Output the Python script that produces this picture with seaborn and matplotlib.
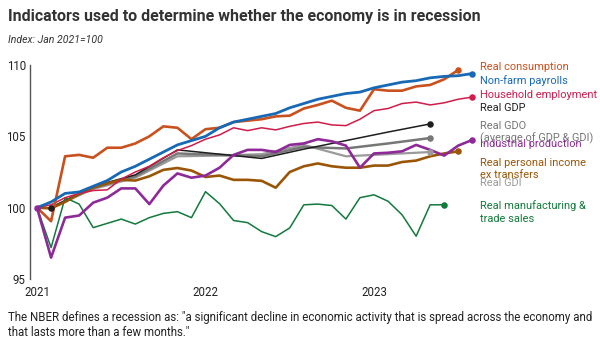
import matplotlib
matplotlib.use("Agg")
import matplotlib.pyplot as plt
import seaborn as sns
import pandas as pd
import numpy as np

sns.set_theme(style="white")
plt.rcParams['font.family'] = ['Roboto', 'DejaVu Sans']

# month index 0 = Jan 2021
consumption = [100.0, 99.05, 103.6, 103.7, 103.5, 104.2, 104.2, 104.5, 105.0, 105.7, 105.6, 104.8,
               105.5, 105.6, 106.0, 106.1, 106.2, 106.4, 106.45, 106.95, 107.2, 107.5, 107.0, 106.8,
               108.3, 108.2, 108.2, 108.5, 108.6, 109.0, 109.65]
payrolls = [100.0, 100.4, 101.0, 101.1, 101.5, 101.9, 102.5, 102.9, 103.4, 103.9, 104.4, 104.7,
            105.0, 105.6, 106.0, 106.2, 106.4, 106.6, 107.0, 107.3, 107.6, 107.8, 108.0, 108.1,
            108.4, 108.6, 108.8, 108.9, 109.1, 109.2, 109.25, 109.4]
household = [100.0, 100.2, 100.7, 101.0, 101.2, 101.25, 102.0, 102.5, 102.9, 103.5, 104.0, 104.35,
             104.8, 105.1, 105.6, 105.4, 105.6, 105.45, 105.7, 105.9, 106.0, 105.8, 105.75, 106.2,
             106.8, 106.95, 107.3, 107.4, 107.2, 107.35, 107.6, 107.75]
industrial = [100.0, 96.5, 99.3, 99.45, 100.35, 100.7, 101.35, 101.35, 100.25, 101.55, 102.4, 102.1,
              102.25, 102.8, 103.7, 104.05, 104.05, 103.9, 104.4, 104.5, 104.8, 104.65, 104.35, 102.8,
              103.8, 103.85, 103.95, 104.4, 104.05, 103.65, 104.35, 104.75]
income = [100.0, 99.95, 100.4, 100.95, 101.4, 101.7, 101.95, 101.9, 102.2, 102.65, 102.78, 102.6,
          102.15, 102.25, 101.95, 101.95, 101.88, 101.4, 102.5, 102.9, 103.1, 102.9, 102.8, 102.8,
          102.95, 102.95, 103.2, 103.3, 103.6, 103.8, 103.95]
manufacturing = [100.0, 97.2, 100.7, 100.25, 98.6, 98.9, 99.2, 98.85, 99.3, 99.6, 99.72, 99.3,
                 101.12, 100.28, 99.1, 98.95, 98.32, 97.97, 98.58, 100.2, 100.25, 100.15, 99.2, 100.7,
                 100.9, 100.45, 99.5, 98.0, 100.2, 100.2]
# quarterly, plotted mid-quarter (months 1, 4, 7, ...)
q_months = [1, 4, 7, 10, 13, 16, 19, 22, 25, 28]
gdp = [100.0, 101.5, 102.3, 104.05, 103.75, 103.45, 104.1, 104.7, 105.3, 105.87]
gdo = [100.0, 101.4, 102.2, 103.8, 103.7, 103.6, 104.25, 104.15, 104.5, 104.88]
gdi = [100.0, 101.3, 102.1, 103.6, 103.65, 103.75, 104.4, 103.6, 103.75, 103.9]

year_ticks = [0, 12, 24]
year_labels = ["2021", "2022", "2023"]

series = [
    ("Real GDI", q_months, gdi, "#9a9a9a", 1.6),
    ("Real GDO", q_months, gdo, "#777777", 1.8),
    ("Real GDP", q_months, gdp, "#1e1e1e", 1.1),
    ("Real manufacturing", list(range(len(manufacturing))), manufacturing, "#127a3c", 1.1),
    ("Real personal income", list(range(len(income))), income, "#9a5606", 1.9),
    ("Household employment", list(range(len(household))), household, "#d01c4b", 1.1),
    ("Real consumption", list(range(len(consumption))), consumption, "#c9511d", 1.9),
    ("Industrial production", list(range(len(industrial))), industrial, "#8d2a97", 1.9),
    ("Non-farm payrolls", list(range(len(payrolls))), payrolls, "#1769b6", 2.0),
]

fig = plt.figure(figsize=(6.0, 3.49), dpi=100)
ax = fig.add_axes([30/600, (349-279)/349, (479.3-30)/600, 214/349])

for name, xs, ys, col, lw in series:
    df = pd.DataFrame({"m": xs, "v": ys})
    sns.lineplot(data=df, x="m", y="v", color=col, linewidth=lw, ax=ax, zorder=3)
    ax.scatter([xs[-1]], [ys[-1]], s=22, color=col, zorder=4, linewidths=0)

# start markers
ax.scatter([1], [gdp[0]], s=22, color="#1e1e1e", zorder=4, linewidths=0)
ax.scatter([0], [industrial[0]], s=22, color="#8d2a97", zorder=4, linewidths=0)

ax.set_xlim(-0.5, 31.5)
ax.set_ylim(95, 110)
ax.set_yticks([95, 100, 105, 110])
ax.set_xticks(year_ticks)
ax.set_xticklabels(year_labels)
ax.set_xlabel("")
ax.set_ylabel("")
for s in ["top", "right", "bottom"]:
    ax.spines[s].set_visible(False)
ax.spines["left"].set_color("#555555")
ax.spines["left"].set_linewidth(1.0)
ax.tick_params(axis="both", length=0, labelsize=8.3, colors="#222222", pad=3)
ax.tick_params(axis="x", pad=5)
ax.patch.set_alpha(0)

# right labels
labels = [
    ("Real consumption", 67, "#c9511d"),
    ("Non-farm payrolls", 81, "#1769b6"),
    ("Household employment", 95, "#d01c4b"),
    ("Real GDP", 108, "#222222"),
    ("Real GDO", 126, "#777777"),
    ("(average of GDP & GDI)", 138.5, "#777777"),
    ("Industrial production", 144, "#8d2a97"),
    ("Real personal income", 163, "#9a5606"),
    ("ex transfers", 175, "#9a5606"),
    ("Real GDI", 183, "#9a9a9a"),
    ("Real manufacturing &", 206, "#127a3c"),
    ("trade sales", 219, "#127a3c"),
]
for txt, y, col in labels:
    fig.text(480/600, 1 - y/349, txt, color=col, fontsize=7.9, va="center", ha="left")

fig.text(8/600, 1 - 17/349, "Indicators used to determine whether the economy is in recession",
         fontsize=11.5, fontweight="bold", color="#333333", va="center", ha="left")
fig.text(8/600, 1 - 40/349, "Index: Jan 2021=100", fontsize=7.6, style="italic",
         color="#333333", va="center", ha="left")
fig.text(8/600, 1 - 318/349,
         "The NBER defines a recession as: \"a significant decline in economic activity that is spread across the economy and",
         fontsize=8.3, color="#222222", va="center", ha="left")
fig.text(8/600, 1 - 332/349, "that lasts more than a few months.\"",
         fontsize=8.3, color="#222222", va="center", ha="left")

fig.savefig("out.png", dpi=100)
